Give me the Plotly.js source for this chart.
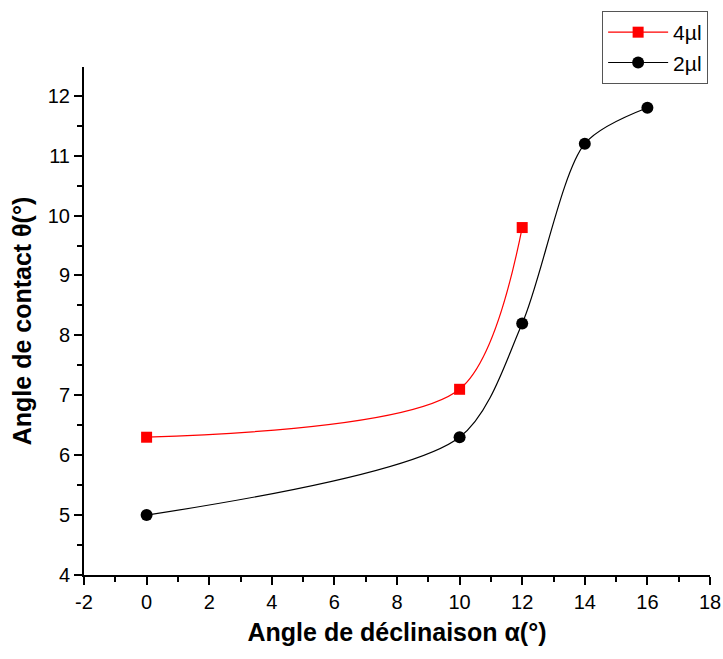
<!DOCTYPE html>
<html>
<head>
<meta charset="utf-8">
<script src="https://cdn.plot.ly/plotly-3.0.1.min.js"></script>
<style>html,body{margin:0;padding:0;background:#fff;}#chart{width:723px;height:659px;}</style>
</head>
<body>
<div id="chart"></div>
<script>
const x4 = [0, 10, 12];
const y4 = [6.3, 7.1, 9.8];
const x2 = [0, 10, 12, 14, 16];
const y2 = [5.0, 6.3, 8.2, 11.2, 11.8];
const xTicks = [-2, 0, 2, 4, 6, 8, 10, 12, 14, 16, 18];
const yTicks = [4, 5, 6, 7, 8, 9, 10, 11, 12];

const traces = [
  {x: x4, y: y4, name: '4µl', mode: 'lines+markers', type: 'scatter',
   line: {color: '#ff0000', width: 1.2, shape: 'spline', smoothing: 0.8},
   marker: {symbol: 'square', size: 11, color: '#ff0000'}},
  {x: x2, y: y2, name: '2µl', mode: 'lines+markers', type: 'scatter',
   line: {color: '#000000', width: 1.2, shape: 'spline', smoothing: 0.8},
   marker: {symbol: 'circle', size: 12, color: '#000000'}}
];

const axisFont = {family: 'Liberation Sans, Arial, sans-serif', size: 20, color: '#000'};
const layout = {
  width: 723, height: 659,
  margin: {l: 84, r: 13, t: 66, b: 84},
  paper_bgcolor: '#fff', plot_bgcolor: '#fff',
  showlegend: true,
  legend: {x: 0.997, y: 1.108, xanchor: 'right', yanchor: 'top',
    bordercolor: '#555', borderwidth: 1, bgcolor: '#fff',
    font: {family: 'Liberation Sans, Arial, sans-serif', size: 21, color: '#000'},
    itemwidth: 60, tracegroupgap: 0},
  xaxis: {range: [-2, 18], tickvals: xTicks, ticktext: xTicks.map(String),
    showgrid: false, zeroline: false, showline: true, linecolor: '#000', linewidth: 2,
    ticks: 'outside', ticklen: 8, tickwidth: 2, tickcolor: '#000', tickfont: axisFont,
    minor: {dtick: 1, tick0: -1, ticks: 'outside', ticklen: 5, tickwidth: 2, tickcolor: '#000', showgrid: false},
    title: {text: '<b>Angle de déclinaison α(°)</b>', standoff: 11,
      font: {family: 'Liberation Sans, Arial, sans-serif', size: 25, color: '#000'}}},
  yaxis: {range: [4, 12.48], tickvals: yTicks, ticktext: yTicks.map(String),
    showgrid: false, zeroline: false, showline: true, linecolor: '#000', linewidth: 2,
    ticks: 'outside', ticklen: 8, tickwidth: 2, tickcolor: '#000', tickfont: axisFont,
    minor: {dtick: 0.5, tick0: 4, ticks: 'outside', ticklen: 5, tickwidth: 2, tickcolor: '#000', showgrid: false},
    title: {text: '<b>Angle de contact θ(°)</b>', standoff: 9,
      font: {family: 'Liberation Sans, Arial, sans-serif', size: 25, color: '#000'}}}
};
Plotly.newPlot('chart', traces, layout, {displayModeBar: false});
</script>
</body>
</html>
